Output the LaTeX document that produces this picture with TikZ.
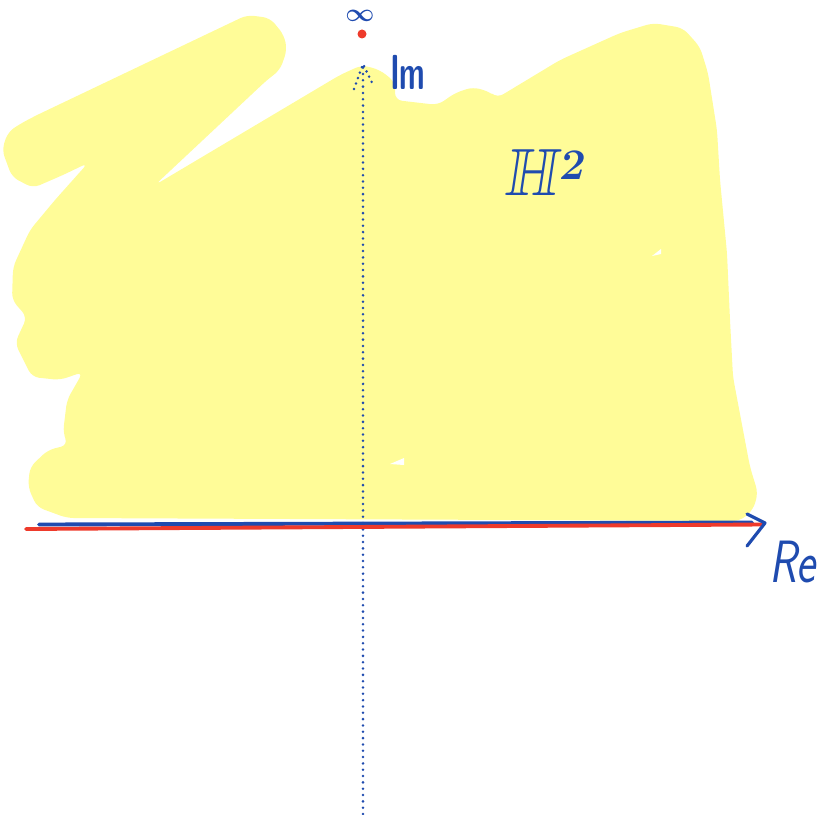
\documentclass[tikz,border=0pt]{standalone}
\usepackage{tikz}
\usetikzlibrary{arrows.meta,positioning,calc}
\usepackage{amsmath,amssymb,bm}
\definecolor{penblue}{HTML}{1F4BAF}
\definecolor{penred}{HTML}{EE3A2B}
\definecolor{marker}{HTML}{FFFC98}
\tikzset{
  ink/.style={penblue,line cap=round,line join=round},
  dotline/.style={penblue,line width=1.6pt,line cap=round,dash pattern=on 0pt off 3.6pt},
  hand/.style={penblue,inner sep=0pt}
}

\begin{document}
\begin{tikzpicture}[x=0.02cm,y=-0.02cm]
  \useasboundingbox (0,0) rectangle (817,814);

  % Shaded upper half plane
  \fill[marker,rounded corners=4pt]
    (2,150) -- (8,132) -- (20,124) -- (35,116) -- (247,15) -- (270,18) -- (284,35)
    -- (287,50) -- (280,70) -- (267,80) -- (155,185)
    -- (340,75) -- (362,65) -- (380,70) -- (395,82) -- (395,100) -- (438,105)
    -- (455,93) -- (473,87) -- (490,92) -- (497,98) -- (560,60) -- (620,33)
    -- (653,23) -- (683,28) -- (700,47) -- (708,73) -- (717,130) -- (720,180)
    -- (727,253) -- (730,320) -- (733,377) -- (750,467) -- (758,493) -- (753,510)
    -- (740,521) -- (67,518) -- (37,507) -- (28,487) -- (30,467) -- (48,450)
    -- (68,445) -- (63,433) -- (67,400) -- (83,372) -- (60,380) -- (32,377)
    -- (15,343) -- (27,317) -- (12,300) -- (13,267) -- (30,230) -- (55,200)
    -- (88,163) -- (63,175) -- (33,188) -- (12,177) -- cycle;
  \fill[white] (390,464) -- (404,458) -- (404,465) -- cycle;
  \fill[white] (652,256) -- (661,249) -- (661,254) -- cycle;

  % Axes
  \coordinate (imTop) at (363,64);
  \coordinate (imBot) at (363,814);
  \coordinate (reL) at (39,524.5);
  \coordinate (reR) at (752,522.5);
  \coordinate (redL) at (26,529);
  \coordinate (redR) at (762,524.5);
  \coordinate (reTip) at (765,523);
  \draw[dotline] (imBot) -- (imTop);
  \draw[dotline,dash pattern=on 0pt off 3.3pt] (354,89) -- (imTop) -- (374,87);
  \draw[ink,line width=2.2pt] (reL) -- (reR);
  \draw[penred,line width=2.2pt,line cap=round] (redL) -- (redR);
  \draw[ink,line width=1.8pt] (747,514) -- (reTip) -- (747,546);

  % Point at infinity
  \fill[penred] (362,34) circle (4.5);
  \node[hand,font=\fontsize{14}{14}\selectfont] (infty) at (360,16) {$\bm{\infty}$};

  % Labels
  \node[hand,font=\fontsize{28}{28}\selectfont\sffamily\bfseries,xscale=0.6,anchor=base west] (im) at (390,90) {Im};
  \node[hand,font=\fontsize{38}{38}\selectfont,xslant=0.15,anchor=base west] (hyp) at (504,195) {$\mathbb{H}^{\bm{2}}$};
  \node[hand,font=\fontsize{34}{34}\selectfont\sffamily\slshape,xscale=0.76,anchor=base west] (re) at (769,582) {Re};
\end{tikzpicture}
\end{document}
